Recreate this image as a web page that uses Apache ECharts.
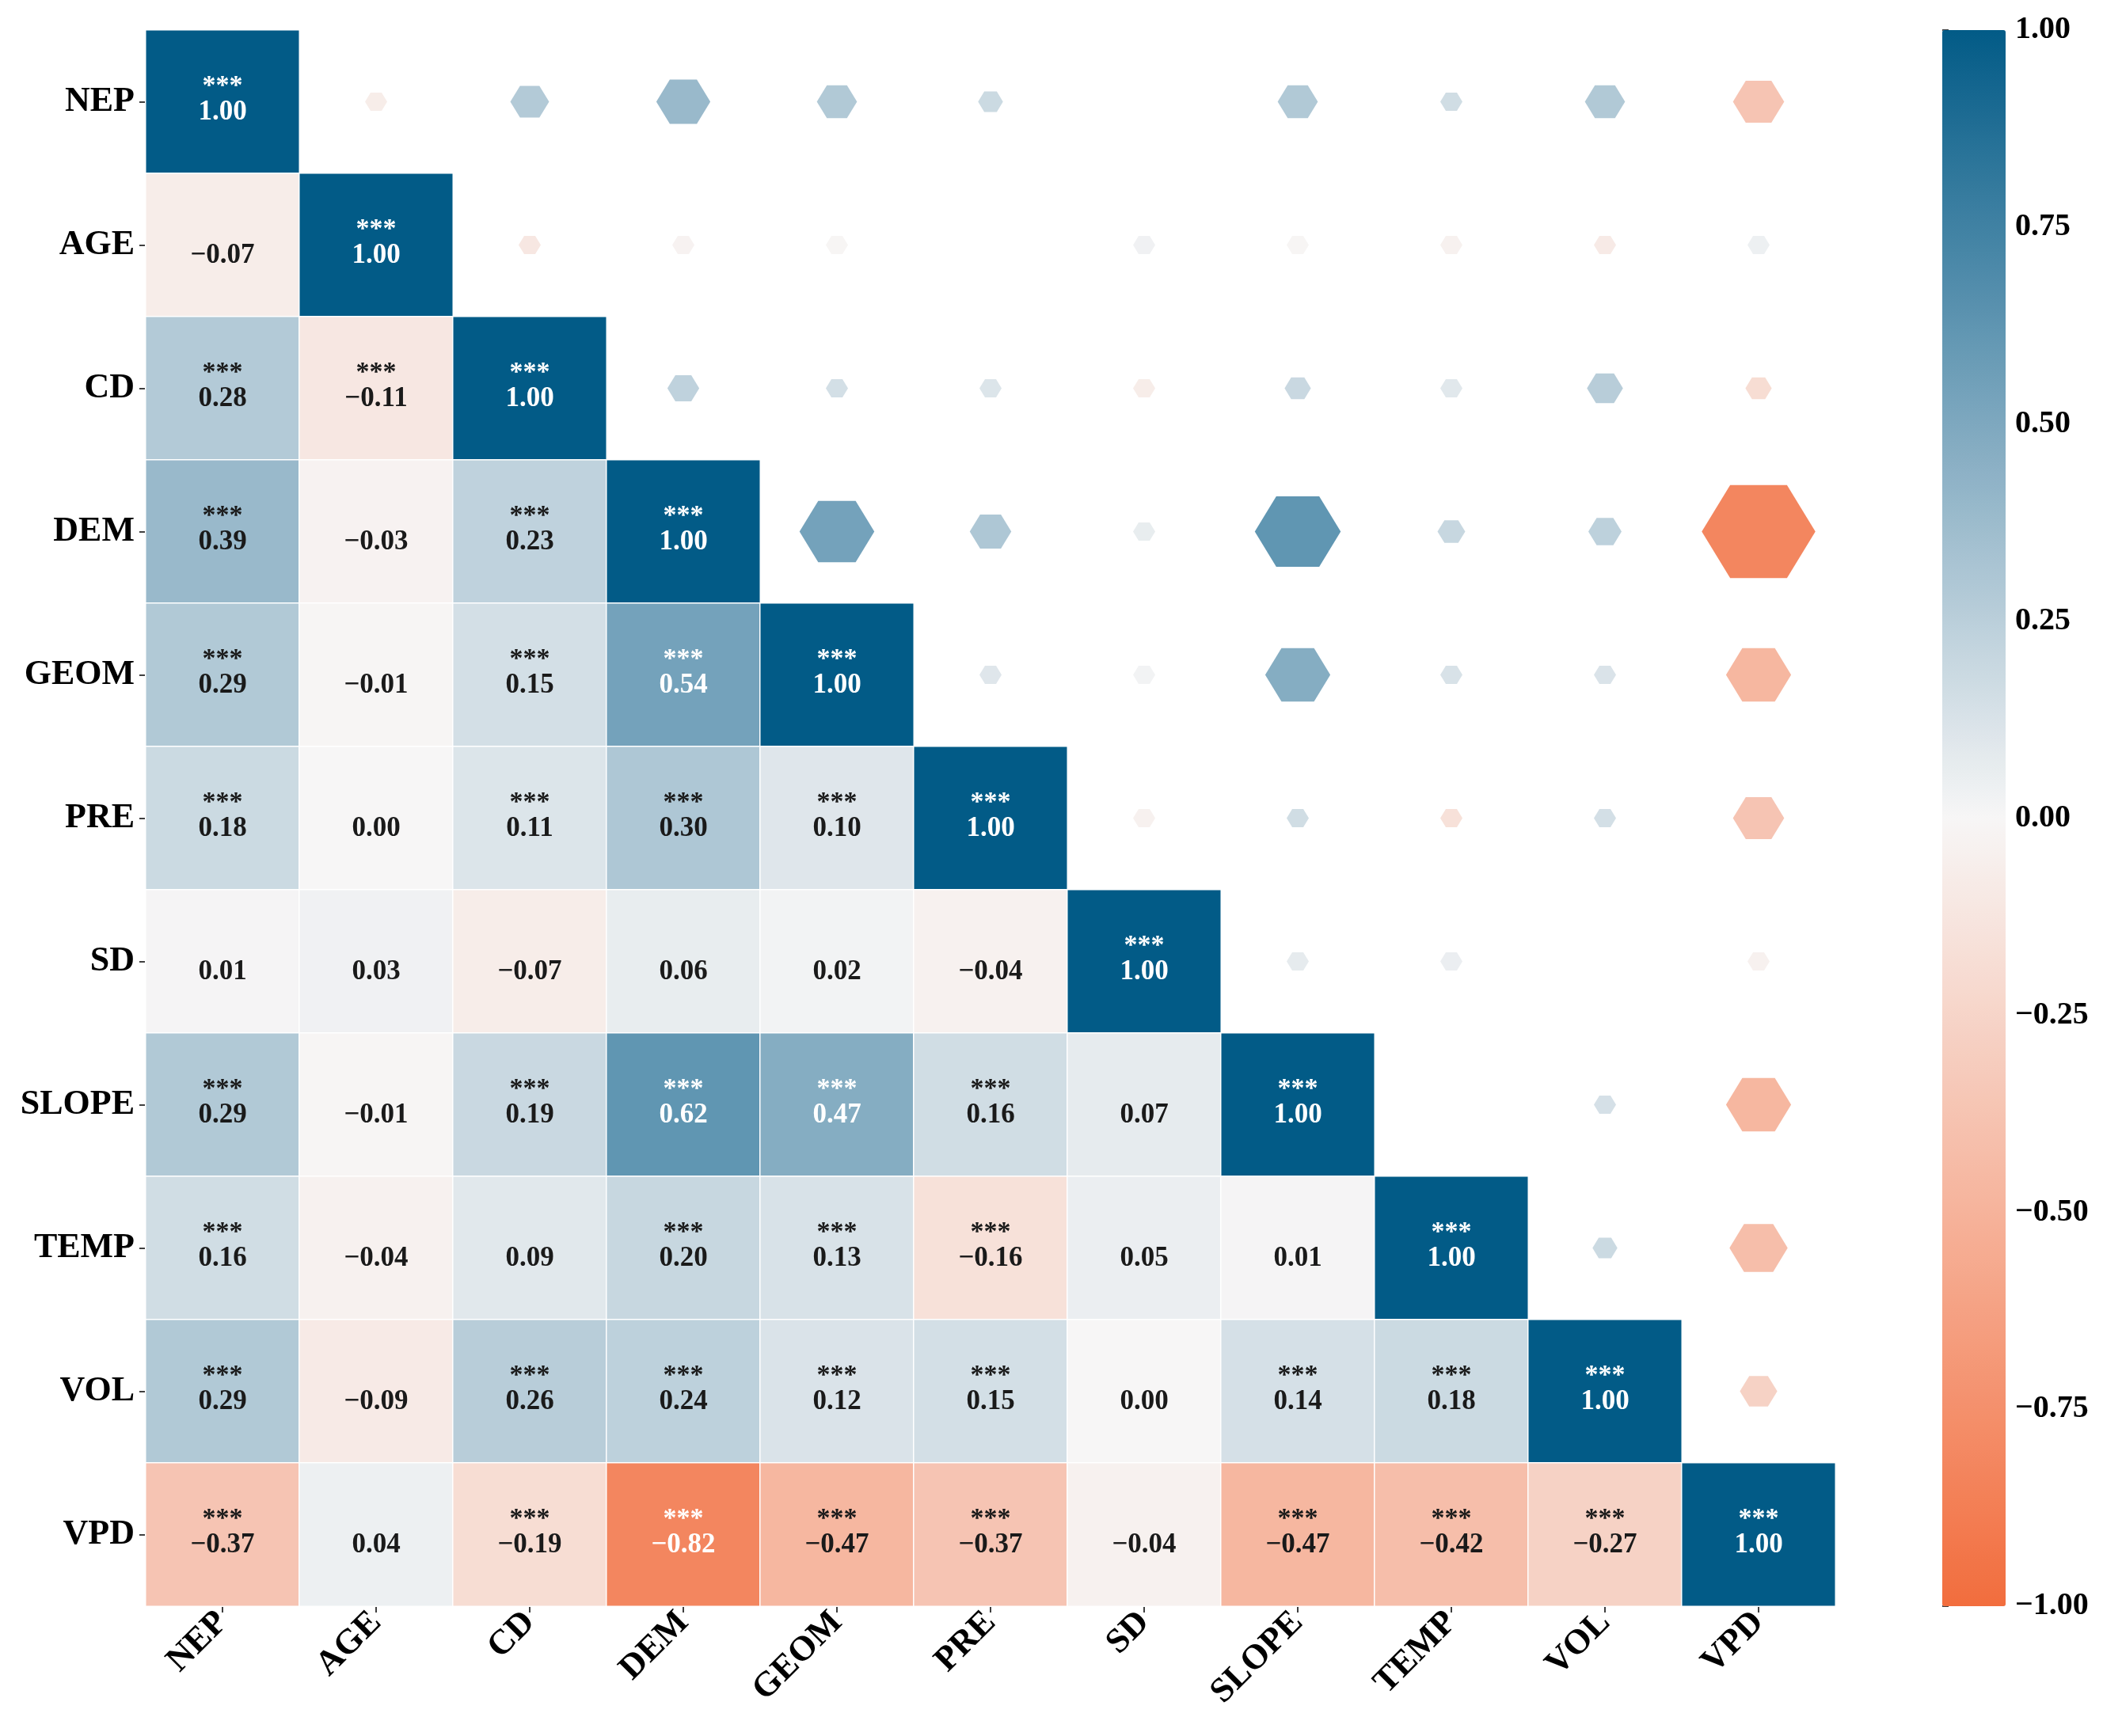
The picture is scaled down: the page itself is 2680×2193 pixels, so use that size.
<!DOCTYPE html>
<html>
<head>
<meta charset="utf-8">
<title>Correlation heatmap</title>
<script src="https://cdn.jsdelivr.net/npm/echarts/dist/echarts.min.js"></script>
<style>
  html, body { margin: 0; padding: 0; background: #fff; }
  #main { width: 2680px; height: 2193px; }
</style>
</head>
<body>
<div id="main"></div>
<script>
// variable names (rows top->bottom, columns left->right)
const vars = ['NEP', 'AGE', 'CD', 'DEM', 'GEOM', 'PRE', 'SD', 'SLOPE', 'TEMP', 'VOL', 'VPD'];

// lower triangle of the correlation matrix, row by row
const corrRows = [
  [1.00],
  [-0.07, 1.00],
  [0.28, -0.11, 1.00],
  [0.39, -0.03, 0.23, 1.00],
  [0.29, -0.01, 0.15, 0.54, 1.00],
  [0.18, 0.00, 0.11, 0.30, 0.10, 1.00],
  [0.01, 0.03, -0.07, 0.06, 0.02, -0.04, 1.00],
  [0.29, -0.01, 0.19, 0.62, 0.47, 0.16, 0.07, 1.00],
  [0.16, -0.04, 0.09, 0.20, 0.13, -0.16, 0.05, 0.01, 1.00],
  [0.29, -0.09, 0.26, 0.24, 0.12, 0.15, 0.00, 0.14, 0.18, 1.00],
  [-0.37, 0.04, -0.19, -0.82, -0.47, -0.37, -0.04, -0.47, -0.42, -0.27, 1.00]
];

// number of significance stars for each lower-triangle cell
const starRows = [
  [3],
  [0, 3],
  [3, 3, 3],
  [3, 0, 3, 3],
  [3, 0, 3, 3, 3],
  [3, 0, 3, 3, 3, 3],
  [0, 0, 0, 0, 0, 0, 3],
  [3, 0, 3, 3, 3, 3, 0, 3],
  [3, 0, 0, 3, 3, 3, 0, 0, 3],
  [3, 0, 3, 3, 3, 3, 0, 3, 3, 3],
  [3, 0, 3, 3, 3, 3, 0, 3, 3, 3, 3]
];

// colour bar ticks
const barTicks = [-1, -0.75, -0.5, -0.25, 0, 0.25, 0.5, 0.75, 1];

const fontFam = "'Liberation Serif', 'Times New Roman', serif";
const hexPath = 'path://M0,43.3 L25,0 L75,0 L100,43.3 L75,86.6 L25,86.6 Z';

function fmt(v) {
  return v.toFixed(2).replace('-', '\u2212');
}

// heatmap cells (lower triangle incl. diagonal)
let cells = [];
for (let i = 0; i < corrRows.length; i++) {
  for (let j = 0; j < corrRows[i].length; j++) {
    cells.push([j, i, corrRows[i][j], starRows[i][j]]);
  }
}

// hexagons (upper triangle, mirrored values)
let hexes = [];
for (let i = 0; i < corrRows.length; i++) {
  for (let j = 0; j < i; j++) {
    let r = corrRows[i][j];
    // near-zero positive coefficients have no marker in the original
    if (r >= 0 && r < 0.015) continue;
    hexes.push([i, j, r]);
  }
}

const chart = echarts.init(document.getElementById('main'), null, { renderer: 'canvas' });

const option = {
  backgroundColor: '#fff',
  animation: false,
  textStyle: { fontFamily: fontFam },
  grid: [
    { left: 184, top: 38, width: 2134, height: 1991 },
    { left: 2453, top: 38, width: 80, height: 1991 }
  ],
  xAxis: [
    {
      type: 'category',
      gridIndex: 0,
      data: vars,
      position: 'bottom',
      axisLine: { show: false },
      axisTick: { show: true, alignWithLabel: true, length: 8, lineStyle: { color: '#000', width: 1.5 } },
      axisLabel: {
        rotate: 45, margin: 14, fontSize: 44, fontWeight: 'bold',
        fontFamily: fontFam, color: '#000'
      },
      splitLine: { show: false }
    },
    { type: 'value', gridIndex: 1, show: false, min: 0, max: 1 }
  ],
  yAxis: [
    {
      type: 'category',
      gridIndex: 0,
      data: vars,
      inverse: true,
      axisLine: { show: false },
      axisTick: { show: true, alignWithLabel: true, length: 8, lineStyle: { color: '#000', width: 1.5 } },
      axisLabel: {
        margin: 14, fontSize: 44, fontWeight: 'bold',
        fontFamily: fontFam, color: '#000'
      },
      splitLine: { show: false }
    },
    {
      type: 'value',
      gridIndex: 1,
      position: 'right',
      min: -1,
      max: 1,
      interval: 0.25,
      axisLine: { show: false },
      axisTick: { show: true, length: 8, lineStyle: { color: '#000', width: 1.5 } },
      axisLabel: {
        margin: 12, fontSize: 40, fontWeight: 'bold', fontFamily: fontFam, color: '#000',
        formatter: function (v) { return barTicks.indexOf(v) >= 0 ? fmt(v) : ''; }
      },
      splitLine: { show: false }
    }
  ],
  visualMap: {
    type: 'continuous',
    min: -1,
    max: 1,
    dimension: 2,
    seriesIndex: [0, 1],
    calculable: false,
    hoverLink: false,
    left: 2453,
    top: 38,
    itemWidth: 80,
    itemHeight: 1991,
    padding: 0,
    inRange: {
      color: ['#f26d3d', '#f6b39b', '#f7f6f6', '#7ea8bf', '#025b87']
    }
  },
  series: [
    {
      type: 'heatmap',
      xAxisIndex: 0,
      yAxisIndex: 0,
      data: cells,
      itemStyle: { borderColor: '#fff', borderWidth: 1.5 },
      label: {
        show: true,
        formatter: function (p) {
          const r = p.data[2];
          const n = p.data[3];
          const w = (r >= 0.45 || r <= -0.6) ? 'w' : 'b';
          const stars = n > 0 ? '*'.repeat(n) : ' ';
          return '{s' + w + '|' + stars + '}\n{v' + w + '|' + fmt(r) + '}';
        },
        rich: {
          sw: { color: '#fff', fontSize: 34, lineHeight: 26, fontWeight: 'bold', fontFamily: fontFam },
          sb: { color: '#1a1a1a', fontSize: 34, lineHeight: 26, fontWeight: 'bold', fontFamily: fontFam },
          vw: { color: '#fff', fontSize: 35, lineHeight: 38, fontWeight: 'bold', fontFamily: fontFam },
          vb: { color: '#1a1a1a', fontSize: 35, lineHeight: 38, fontWeight: 'bold', fontFamily: fontFam }
        }
      },
      emphasis: { disabled: true }
    },
    {
      type: 'scatter',
      xAxisIndex: 0,
      yAxisIndex: 0,
      data: hexes,
      symbol: hexPath,
      symbolSize: function (val) {
        const w = Math.max(28, 175 * Math.abs(val[2]));
        return [w, w * 0.82];
      },
      itemStyle: { opacity: 1 },
      emphasis: { disabled: true }
    }
  ]
};

chart.setOption(option);
</script>
</body>
</html>
